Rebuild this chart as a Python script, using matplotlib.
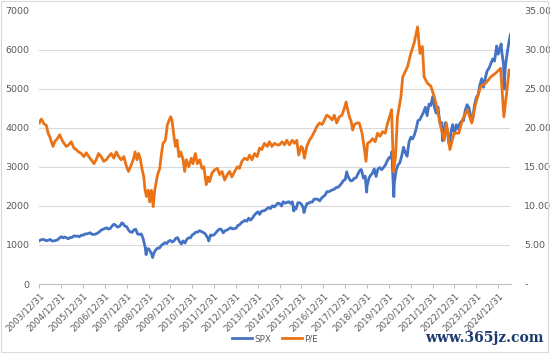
import matplotlib
matplotlib.use("Agg")
import matplotlib.pyplot as plt
from matplotlib.ticker import FuncFormatter
from matplotlib.lines import Line2D
from matplotlib.patches import Rectangle
import pandas as pd

# ---------------- data ----------------
# S&P 500 month-end closes, Jan 2004 .. Jun 2025
spx_monthly = [
    1131, 1145, 1126, 1107, 1121, 1141, 1102, 1104, 1115, 1130, 1174, 1212,
    1181, 1204, 1181, 1157, 1192, 1191, 1234, 1220, 1229, 1207, 1249, 1248,
    1280, 1281, 1295, 1311, 1270, 1270, 1277, 1304, 1336, 1378, 1401, 1418,
    1438, 1407, 1421, 1482, 1531, 1503, 1455, 1474, 1527, 1549, 1481, 1468,
    1379, 1331, 1323, 1386, 1400, 1280, 1267, 1283, 1166, 969, 896, 903,
    826, 735, 798, 873, 919, 919, 987, 1021, 1057, 1036, 1096, 1115,
    1074, 1104, 1169, 1187, 1089, 1031, 1102, 1049, 1141, 1183, 1181, 1258,
    1286, 1327, 1326, 1364, 1345, 1321, 1292, 1219, 1131, 1253, 1247, 1258,
    1312, 1366, 1408, 1398, 1310, 1362, 1379, 1407, 1441, 1412, 1416, 1426,
    1498, 1515, 1569, 1598, 1631, 1606, 1686, 1633, 1682, 1757, 1806, 1848,
    1783, 1859, 1872, 1884, 1924, 1960, 1931, 2003, 1972, 2018, 2068, 2059,
    1995, 2105, 2068, 2086, 2107, 2063, 2104, 1972, 1920, 2079, 2080, 2044,
    1940, 1932, 2060, 2065, 2097, 2099, 2174, 2171, 2168, 2126, 2199, 2239,
    2279, 2364, 2363, 2384, 2412, 2423, 2470, 2472, 2519, 2575, 2648, 2674,
    2824, 2714, 2641, 2648, 2705, 2718, 2816, 2902, 2914, 2712, 2760, 2507,
    2704, 2784, 2834, 2946, 2752, 2942, 2980, 2926, 2977, 3038, 3141, 3231,
    3226, 2954, 2585, 2912, 3044, 3100, 3271, 3500, 3363, 3270, 3622, 3756,
    3714, 3811, 3973, 4181, 4204, 4298, 4395, 4523, 4308, 4605, 4567, 4766,
    4516, 4374, 4530, 4132, 4132, 3785, 4130, 3955, 3586, 3872, 4080, 3840,
    4077, 3970, 4109, 4169, 4180, 4450, 4589, 4508, 4288, 4194, 4568, 4770,
    4846, 5096, 5254, 5036, 5278, 5460, 5522, 5648, 5762, 5705, 6032, 5882,
    6041, 5955, 5612, 5569, 5912, 6205,
]
spx_month_start = "2004-01-31"
# extra daily points (start, intra-month extremes, end)
spx_extra_dates = [
    "2004-01-02", "2007-10-09", "2008-11-20", "2009-03-09", "2010-07-02",
    "2011-10-03", "2015-08-25", "2016-02-11", "2018-01-26", "2018-09-20",
    "2018-12-24", "2020-02-19", "2020-03-23", "2022-01-03", "2022-06-16",
    "2022-10-12", "2024-12-06", "2025-02-19", "2025-04-08", "2025-07-25",
]
spx_extra_values = [
    1109, 1565, 752, 677, 1022,
    1099, 1867, 1829, 2873, 2931,
    2351, 3386, 2237, 4797, 3666,
    3577, 6090, 6144, 4983, 6389,
]

# P/E (right axis); time given as decimal years
pe_years = [
    2004.00, 2004.02, 2004.09, 2004.21, 2004.32, 2004.40, 2004.47, 2004.55, 2004.63,
    2004.70, 2004.82, 2004.93, 2005.04, 2005.13, 2005.23, 2005.34, 2005.46, 2005.58,
    2005.69, 2005.80, 2005.92, 2006.04, 2006.15, 2006.26, 2006.37, 2006.50, 2006.60,
    2006.71, 2006.83, 2006.95, 2007.06, 2007.17, 2007.29, 2007.41, 2007.52, 2007.63,
    2007.74, 2007.87, 2007.97, 2008.08, 2008.20, 2008.32, 2008.38, 2008.47, 2008.54,
    2008.63, 2008.69, 2008.78,
    2008.83, 2008.90, 2008.98, 2009.05, 2009.13, 2009.21, 2009.28, 2009.41, 2009.51,
    2009.59, 2009.66, 2009.77, 2009.86, 2009.92, 2010.01, 2010.07, 2010.16, 2010.23,
    2010.30, 2010.39, 2010.47, 2010.58, 2010.65, 2010.73, 2010.84, 2010.96, 2011.03,
    2011.14, 2011.23, 2011.34, 2011.44, 2011.53, 2011.64, 2011.72, 2011.79, 2011.90,
    2012.02, 2012.15, 2012.25, 2012.36, 2012.48, 2012.60, 2012.71, 2012.81, 2012.94,
    2013.06, 2013.16, 2013.27, 2013.39, 2013.52, 2013.62, 2013.73, 2013.85, 2013.97,
    2014.08, 2014.18, 2014.30, 2014.43, 2014.53, 2014.64, 2014.76, 2014.89,
    2014.99, 2015.11, 2015.22, 2015.32, 2015.45, 2015.57, 2015.68, 2015.78, 2015.87,
    2015.98, 2016.05, 2016.13, 2016.24, 2016.36, 2016.48, 2016.59, 2016.69, 2016.82,
    2016.94, 2017.05, 2017.15, 2017.27, 2017.40, 2017.50, 2017.61, 2017.73, 2017.85,
    2017.96, 2018.04, 2018.11, 2018.19, 2018.27, 2018.34, 2018.42, 2018.52, 2018.64,
    2018.77, 2018.87, 2018.95, 2019.02, 2019.13, 2019.25, 2019.37, 2019.48, 2019.59,
    2019.71, 2019.83, 2019.94, 2020.05, 2020.12, 2020.18, 2020.21, 2020.30, 2020.39,
    2020.47, 2020.55,
    2020.63, 2020.85, 2021.00, 2021.15, 2021.31, 2021.42, 2021.53, 2021.61, 2021.76,
    2021.92, 2022.07, 2022.22, 2022.37, 2022.53, 2022.63, 2022.79, 2022.98, 2023.20,
    2023.36, 2023.59, 2023.79, 2023.97, 2024.20, 2024.43, 2024.66, 2024.89, 2025.11,
    2025.26, 2025.40, 2025.50, 2025.56,
]
pe_values = [
    20.6, 20.8, 21.1, 20.5, 20.3, 19.3, 18.9, 18.2, 17.6,
    18.2, 18.6, 19.1, 18.4, 18.0, 17.6, 17.8, 18.2, 17.4,
    17.2, 16.9, 16.7, 16.3, 16.8, 16.3, 15.9, 15.4, 15.9,
    16.7, 16.3, 15.7, 15.9, 16.3, 16.7, 16.1, 16.9, 16.3,
    15.9, 16.3, 15.2, 14.4, 15.2, 16.1, 16.9, 15.9, 16.7,
    15.9, 14.8, 13.7,
    12.2, 11.2, 12.0, 10.5, 12.0, 9.9, 12.0, 14.0, 14.8,
    16.7, 18.0, 18.4, 20.4, 20.8, 21.4, 21.0, 18.9, 17.6,
    18.4, 16.3, 16.9, 15.9, 14.4, 15.9, 15.0, 16.1, 15.4,
    16.7, 15.4, 15.9, 14.8, 15.0, 12.7, 13.7, 13.1, 14.2,
    14.6, 14.8, 14.0, 14.4, 13.3, 14.0, 14.4, 13.7, 14.4,
    15.0, 14.8, 15.7, 16.1, 15.9, 16.5, 15.9, 16.7, 16.3,
    17.4, 17.2, 18.0, 17.6, 18.2, 17.6, 18.0, 17.8,
    17.8, 18.2, 17.8, 18.4, 17.8, 18.4, 18.0, 18.4, 16.5,
    17.6, 17.4, 16.1, 17.6, 18.4, 18.9, 19.5, 20.1, 20.6,
    20.4, 21.0, 21.6, 21.4, 21.0, 21.6, 20.6, 21.4, 21.6,
    22.5, 23.3, 22.3, 21.4, 20.8, 19.7, 20.4, 20.6, 20.6,
    19.3, 17.4, 15.7, 18.0, 18.2, 18.6, 18.2, 19.3, 18.9,
    19.5, 19.3, 20.6, 21.6, 22.3, 17.2, 14.4, 16.3, 21.4,
    22.7, 24.0,
    26.5, 27.8, 29.5, 30.8, 32.9, 29.5, 30.4, 26.5, 25.7,
    25.3, 24.0, 22.3, 20.1, 18.4, 20.6, 17.2, 19.3, 19.3,
    21.0, 22.3, 20.6, 23.1, 25.3, 25.7, 26.5, 27.0, 27.6,
    21.4, 24.8, 27.4, 27.0,
]

x_tick_labels = ["%d/12/31" % y for y in range(2003, 2025)]
left_ticks = [0, 1000, 2000, 3000, 4000, 5000, 6000, 7000]
right_ticks = [0, 5, 10, 15, 20, 25, 30, 35]
series_names = ["SPX", "P/E"]

# ---------------- build series ----------------
spx_m = pd.Series(spx_monthly,
                  index=pd.date_range(spx_month_start, periods=len(spx_monthly), freq="ME"))
spx_e = pd.Series(spx_extra_values, index=pd.to_datetime(spx_extra_dates))
spx = pd.concat([spx_m, spx_e]).sort_index()

base = pd.Timestamp("2004-01-01")
pe_index = [base + pd.Timedelta(days=(y - 2004.0) * 365.25) for y in pe_years]
pe = pd.Series(pe_values, index=pd.DatetimeIndex(pe_index))

BLUE = "#4472C4"
ORANGE = "#EA7317"
GRAY_TXT = "#595959"
GRID = "#D9D9D9"

fig = plt.figure(figsize=(5.5, 3.53), dpi=100)
fig.patches.append(Rectangle((0.002, 0.003), 0.994, 0.993, transform=fig.transFigure,
                             fill=False, edgecolor="#D9D9D9", linewidth=0.8))
ax = fig.add_axes([39.3 / 550, 1 - 284 / 353, (510.5 - 39.3) / 550, (284 - 10.5) / 353])
ax2 = ax.twinx()

ax.plot(spx.index, spx.values, color=BLUE, lw=2.0, solid_joinstyle="round")
ax2.plot(pe.index, pe.values, color=ORANGE, lw=2.0, solid_joinstyle="round")

ax.set_ylim(0, 7000)
ax2.set_ylim(0, 35)
ax.set_xlim(pd.Timestamp("2003-12-31"), pd.Timestamp("2025-07-25"))

ax.set_yticks(left_ticks)
ax.yaxis.set_major_formatter(FuncFormatter(lambda v, p: "%d" % v))
ax2.set_yticks(right_ticks)
ax2.yaxis.set_major_formatter(FuncFormatter(lambda v, p: "-" if v == 0 else "%.2f" % v))

ax.grid(axis="y", color=GRID, lw=0.8)
ax.set_axisbelow(True)
for a in (ax, ax2):
    for s in a.spines.values():
        s.set_visible(False)
ax.spines["bottom"].set_visible(True)
ax.spines["bottom"].set_color("#BFBFBF")
ax.spines["bottom"].set_linewidth(0.8)

ax.tick_params(axis="y", length=0, labelsize=6.8, labelcolor=GRAY_TXT, pad=7)
ax2.tick_params(axis="y", length=0, labelsize=6.8, labelcolor=GRAY_TXT, pad=10)

xt = pd.to_datetime(["%d-12-31" % y for y in range(2003, 2025)])
ax.set_xticks(xt)
ax.set_xticklabels(x_tick_labels, rotation=45, ha="right", rotation_mode="anchor")
ax.tick_params(axis="x", length=3, color="#BFBFBF", labelsize=6.3,
               labelcolor=GRAY_TXT, pad=2)

handles = [Line2D([], [], color=BLUE, lw=2), Line2D([], [], color=ORANGE, lw=2)]
fig.legend(handles, series_names, loc="center", bbox_to_anchor=(0.5, 1 - 339 / 353),
           ncol=2, frameon=False, fontsize=6.3, handlelength=2.3, handletextpad=0.3,
           columnspacing=1.2, labelcolor=GRAY_TXT)

fig.text(0.988, 1 - 338 / 353, "www.365jz.com", ha="right", va="center",
         fontsize=10, color="#1B3A6E", family="DejaVu Serif", fontweight="bold")

fig.savefig("out.png", dpi=100)
